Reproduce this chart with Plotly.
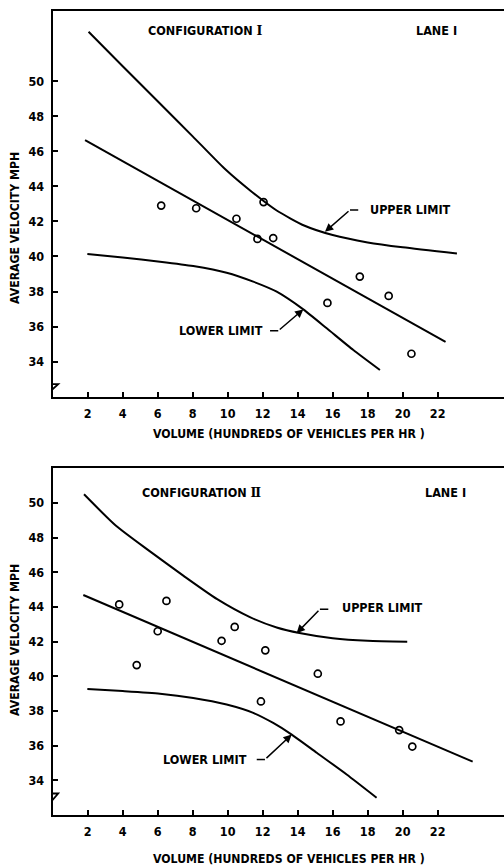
import plotly.graph_objects as go

# ---------------- data: Configuration I, Lane 1 ----------------
vol_1 = [6.2, 8.2, 10.5, 12.05, 11.7, 12.6, 15.7, 17.55, 19.2, 20.5]
spd_1 = [42.9, 42.75, 42.15, 43.1, 41.0, 41.05, 37.35, 38.85, 37.75, 34.45]
fit_x_1 = [1.85, 22.45]
fit_y_1 = [46.63, 35.13]
upper_x_1 = [2.05, 4.0, 6.0, 8.0, 9.8, 11.3, 12.8, 14.4, 16.0, 18.0, 20.0, 23.1]
upper_y_1 = [52.82, 50.85, 48.85, 46.85, 45.03, 43.75, 42.62, 41.75, 41.22, 40.8, 40.52, 40.17]
lower_x_1 = [1.98, 4.0, 6.13, 8.03, 9.94, 11.46, 12.8, 14.32, 15.66, 17.18, 18.7]
lower_y_1 = [40.14, 39.94, 39.7, 39.45, 39.07, 38.56, 37.99, 36.98, 35.9, 34.66, 33.52]

# ---------------- data: Configuration II, Lane 1 ----------------
vol_2 = [3.8, 4.8, 6.0, 6.5, 9.65, 10.4, 11.9, 12.15, 15.15, 16.45, 19.8, 20.55]
spd_2 = [44.15, 40.65, 42.6, 44.35, 42.05, 42.85, 38.55, 41.5, 40.15, 37.4, 36.9, 35.95]
fit_x_2 = [1.75, 24.0]
fit_y_2 = [44.69, 35.08]
upper_x_2 = [1.79, 3.6, 5.5, 7.5, 9.4, 11.3, 12.8, 14.1, 16.0, 18.0, 20.26]
upper_y_2 = [50.5, 48.7, 47.25, 45.78, 44.45, 43.4, 42.82, 42.5, 42.2, 42.05, 42.0]
lower_x_2 = [1.98, 4.0, 6.13, 8.03, 9.94, 11.46, 12.6, 13.66, 15.09, 16.8, 18.51]
lower_y_2 = [39.27, 39.15, 39.0, 38.75, 38.37, 37.89, 37.31, 36.64, 35.59, 34.34, 33.0]

x_ticks = [2, 4, 6, 8, 10, 12, 14, 16, 18, 20, 22]
y_ticks = [34, 36, 38, 40, 42, 44, 46, 48, 50]

x_title = "VOLUME (HUNDREDS OF VEHICLES PER HR )"
y_title = "AVERAGE VELOCITY MPH"
numerals = ["\u2160", "\u2161"]
lane = "LANE I"

FONT = "DejaVu Sans Condensed, DejaVu Sans, sans-serif"
W, H = 504, 867
left_px = 52.7

fig = go.Figure()

panels = [
    dict(xa="x", ya="y", vol=vol_1, spd=spd_1, fx=fit_x_1, fy=fit_y_1,
         ux=upper_x_1, uy=upper_y_1, lx=lower_x_1, ly=lower_y_1),
    dict(xa="x2", ya="y2", vol=vol_2, spd=spd_2, fx=fit_x_2, fy=fit_y_2,
         ux=upper_x_2, uy=upper_y_2, lx=lower_x_2, ly=lower_y_2),
]

for p in panels:
    fig.add_trace(go.Scatter(x=p["fx"], y=p["fy"], mode="lines", line=dict(color="black", width=2),
                             xaxis=p["xa"], yaxis=p["ya"], hoverinfo="skip"))
    for cx, cy in [(p["ux"], p["uy"]), (p["lx"], p["ly"])]:
        fig.add_trace(go.Scatter(x=cx, y=cy, mode="lines",
                                 line=dict(color="black", width=2, shape="spline", smoothing=0.6),
                                 xaxis=p["xa"], yaxis=p["ya"], hoverinfo="skip"))
    fig.add_trace(go.Scatter(x=p["vol"], y=p["spd"], mode="markers",
                             marker=dict(symbol="circle-open", size=7, color="black",
                                         line=dict(color="black", width=1.7)),
                             xaxis=p["xa"], yaxis=p["ya"]))

tickfont = dict(family=FONT, size=12.5, color="black", weight="bold")
common_x = dict(range=[0, 25.79], tickvals=x_ticks, ticks="inside", ticklen=5, tickwidth=2,
                tickcolor="black", showline=True, linewidth=2, linecolor="black", mirror=True,
                showgrid=False, zeroline=False, tickfont=tickfont, ticklabelstandoff=4)
common_y = dict(tickvals=y_ticks, ticks="inside", ticklen=5, tickwidth=2,
                tickcolor="black", showline=True, linewidth=2, linecolor="black",
                showgrid=False, zeroline=False, tickfont=tickfont, ticklabelstandoff=4)

top_dom = [1 - 396.7 / H, 1 - 11 / H]
bot_dom = [1 - 815 / H, 1 - 468.3 / H]
xdom = [left_px / W, 1]

fig.update_layout(
    width=W, height=H, margin=dict(l=0, r=0, t=0, b=0),
    paper_bgcolor="white", plot_bgcolor="white", showlegend=False,
    xaxis=dict(domain=xdom, anchor="y", **common_x),
    yaxis=dict(domain=top_dom, anchor="x", range=[32, 54], **common_y),
    xaxis2=dict(domain=xdom, anchor="y2", **common_x),
    yaxis2=dict(domain=bot_dom, anchor="x2", range=[32, 52], **common_y),
)

afont = dict(family=FONT, size=12.5, color="black", weight="bold")
tfont = dict(family=FONT, size=12.2, color="black", weight="bold")
ann = []
# panel headings
for (xa, ya, cx, cy, lx), num in zip([("x", "y", 8.71, 52.88, 21.96), ("x2", "y2", 8.51, 50.63, 22.42)], numerals):
    ann.append(dict(x=cx, y=cy, xref=xa, yref=ya, showarrow=False, font=afont,
                    xanchor="center", yanchor="middle",
                    text=f"CONFIGURATION <span style='font-family:DejaVu Serif'>{num}</span>"))
    ann.append(dict(x=lx, y=cy, xref=xa, yref=ya, text=lane, showarrow=False, font=afont,
                    xanchor="center", yanchor="middle"))

# axis titles
for yc in [228, 640]:
    ann.append(dict(x=15 / W, y=1 - yc / H, xref="paper", yref="paper", text=y_title,
                    textangle=-90, showarrow=False, font=tfont, xanchor="center", yanchor="middle"))
for yc in [434, 858.5]:
    ann.append(dict(x=289 / W, y=1 - yc / H, xref="paper", yref="paper", text=x_title,
                    showarrow=False, font=tfont, xanchor="center", yanchor="middle"))

# limit labels with leaders: text, text_x, text_y, anchor, start_x, bend_x, bend_y, tip_x, tip_y
leaders = [
    ("x", "y", "UPPER LIMIT", 18.02, 42.68, "left", 17.46, 16.99, 42.65, 15.56, 41.41),
    ("x", "y", "LOWER LIMIT", 12.13, 35.76, "right", 12.42, 12.89, 35.76, 14.32, 36.98),
    ("x2", "y2", "UPPER LIMIT", 16.42, 43.98, "left", 15.75, 15.27, 43.87, 13.94, 42.49),
    ("x2", "y2", "LOWER LIMIT", 11.23, 35.2, "right", 11.66, 12.13, 35.2, 13.66, 36.64),
]
shapes = []
for xa, ya, txt, tx, ty, anc, sx, bx, by, px, py in leaders:
    ann.append(dict(x=tx, y=ty, xref=xa, yref=ya, text=txt, xanchor=anc, yanchor="middle",
                    showarrow=False, font=afont))
    ann.append(dict(x=px, y=py, xref=xa, yref=ya, ax=bx, ay=by, axref=xa, ayref=ya, text="",
                    showarrow=True, arrowhead=2, arrowsize=1.1, arrowwidth=1.5, arrowcolor="black",
                    standoff=0))
    shapes.append(dict(type="line", xref=xa, yref=ya, x0=sx, y0=by, x1=bx, y1=by,
                       line=dict(color="black", width=1.5)))

# axis break marks (pixel offsets from the axis origin)
for xa, ya, hi, lo in [("x", "y", 12.5, 3.5), ("x2", "y2", 21.5, 10)]:
    shapes.append(dict(type="path", xref=xa, yref=ya, xsizemode="pixel", ysizemode="pixel",
                       xanchor=0, yanchor=32,
                       path=f"M0,{hi} L5.5,{hi} L-4.5,{lo}",
                       line=dict(color="black", width=1.8)))

fig.update_layout(annotations=ann, shapes=shapes)
fig.write_html("out.html")
